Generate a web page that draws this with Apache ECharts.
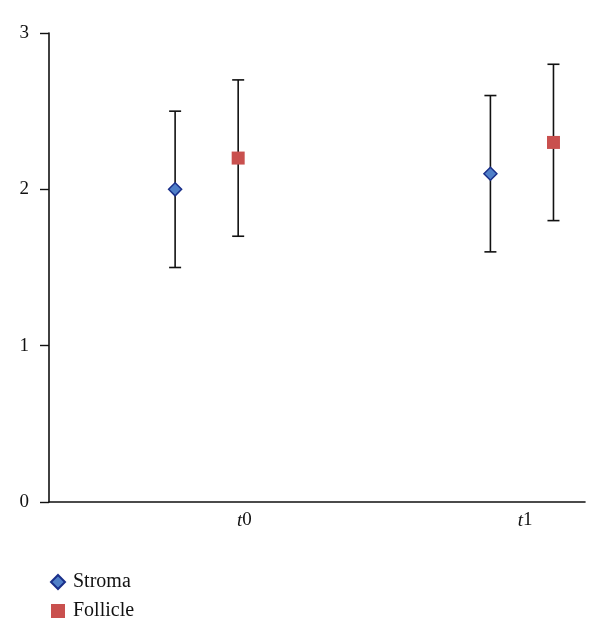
<!DOCTYPE html>
<html>
<head>
<meta charset="utf-8">
<script src="https://cdn.jsdelivr.net/npm/echarts@6/dist/echarts.min.js"></script>
<style>html,body{margin:0;padding:0;background:#fff}#c{width:600px;height:644px}</style>
</head>
<body>
<div id="c"></div>
<script>
const categories = ['t0', 't1'];
const categoryLabelX = [3.1, 7.55];
const stromaX = [2, 7];
const follicleX = [3, 8];
const stromaMean = [2.0, 2.1];
const stromaErr = [0.5, 0.5];
const follicleMean = [2.2, 2.3];
const follicleErr = [0.5, 0.5];
const yTicks = [0, 1, 2, 3];

const FONT = "'Liberation Serif', 'DejaVu Serif', serif";

function errData(xs, means, errs) {
  return xs.map((x, i) => [x, means[i] - errs[i], means[i] + errs[i]]);
}
function errRender(params, api) {
  const x = api.value(0);
  const lo = api.coord([x, api.value(1)]);
  const hi = api.coord([x, api.value(2)]);
  const w = 6;
  const style = { stroke: '#111', lineWidth: 1.6 };
  return {
    type: 'group',
    children: [
      { type: 'line', shape: { x1: lo[0], y1: lo[1], x2: hi[0], y2: hi[1] }, style },
      { type: 'line', shape: { x1: lo[0] - w, y1: lo[1], x2: lo[0] + w, y2: lo[1] }, style },
      { type: 'line', shape: { x1: hi[0] - w, y1: hi[1], x2: hi[0] + w, y2: hi[1] }, style }
    ]
  };
}

const chart = echarts.init(document.getElementById('c'));
chart.setOption({
  animation: false,
  backgroundColor: '#fff',
  grid: { left: 49, right: 15, top: 33, bottom: 142 },
  xAxis: {
    type: 'value', min: 0, max: 8.5,
    splitLine: { show: false },
    axisTick: { show: false },
    axisLine: { lineStyle: { color: '#111', width: 1.6 } },
    axisLabel: {
      margin: 9,
      customValues: categoryLabelX,
      formatter: v => {
        let i = -1;
        categoryLabelX.forEach((p, k) => { if (Math.abs(p - v) < 1e-6) i = k; });
        if (i < 0) return '';
        const c = categories[i];
        return '{i|' + c.charAt(0) + '}{n|' + c.slice(1) + '}';
      },
      rich: {
        i: { fontFamily: FONT, fontStyle: 'italic', fontSize: 19, color: '#111' },
        n: { fontFamily: FONT, fontSize: 19, color: '#111' }
      }
    }
  },
  yAxis: {
    type: 'value', min: yTicks[0], max: yTicks[yTicks.length - 1], interval: 1,
    splitLine: { show: false },
    axisLine: { show: true, lineStyle: { color: '#111', width: 1.6 } },
    axisTick: { show: true, length: 9, lineStyle: { color: '#111', width: 1.4 } },
    axisLabel: { margin: 20, fontFamily: FONT, fontSize: 19, color: '#111' }
  },
  legend: {
    orient: 'vertical', left: 45, top: 567, itemGap: 9,
    itemWidth: 14, itemHeight: 14,
    data: ['Stroma', 'Follicle'],
    textStyle: { fontFamily: FONT, fontSize: 20, color: '#111', padding: [0, 0, 0, 3] }
  },
  series: [
    { type: 'custom', name: 'errS', renderItem: errRender, data: errData(stromaX, stromaMean, stromaErr), z: 1 },
    { type: 'custom', name: 'errF', renderItem: errRender, data: errData(follicleX, follicleMean, follicleErr), z: 1 },
    {
      type: 'scatter', name: 'Stroma', symbol: 'diamond', symbolSize: 13, z: 3,
      itemStyle: { color: '#4F7FC8', borderColor: '#1A2F8A', borderWidth: 1.5, opacity: 1 },
      data: stromaX.map((x, i) => [x, stromaMean[i]])
    },
    {
      type: 'scatter', name: 'Follicle', symbol: 'rect', symbolSize: 13, z: 3,
      itemStyle: { color: '#C9504E', opacity: 1 },
      data: follicleX.map((x, i) => [x, follicleMean[i]])
    }
  ]
});
</script>
</body>
</html>
